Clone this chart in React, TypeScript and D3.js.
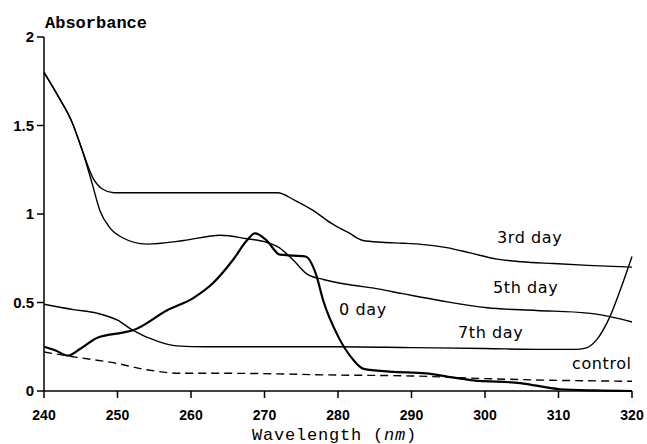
import React from "react";
import * as d3 from "d3";

// absorbance spectra, [wavelength nm, absorbance]
const day3: [number, number][] = [
  [240, 1.8], [242, 1.66], [243.8, 1.52], [245.2, 1.36], [246.7, 1.2], [248, 1.14],
  [249.5, 1.12], [255, 1.12], [262, 1.12], [268, 1.12], [271.8, 1.12], [274, 1.08],
  [276.6, 1.02], [279, 0.95], [281.6, 0.89], [283.4, 0.85], [286, 0.84], [288.8, 0.835],
  [291, 0.83], [294.8, 0.81], [298, 0.78], [301.6, 0.745], [305, 0.73], [309.3, 0.72],
  [314, 0.71], [320, 0.7],
];
const day5: [number, number][] = [
  [240, 1.8], [242, 1.66], [243.8, 1.52], [245.2, 1.36], [246.5, 1.18], [247.6, 1.02],
  [249, 0.92], [250.5, 0.87], [254, 0.83], [259, 0.85], [264, 0.88], [267.6, 0.86],
  [270.3, 0.84], [272, 0.81], [273.9, 0.74], [275.8, 0.66], [278, 0.63], [281.6, 0.6],
  [285, 0.58], [288.8, 0.55], [294, 0.51], [300.3, 0.47], [307, 0.455], [314, 0.44],
  [317, 0.42], [320, 0.39],
];
const day7: [number, number][] = [
  [240, 0.49], [244, 0.46], [247.2, 0.44], [250, 0.4], [252, 0.345], [255.5, 0.28],
  [258, 0.255], [262, 0.25], [270, 0.25], [280, 0.25], [290, 0.245], [300, 0.24],
  [308, 0.235], [312.5, 0.235], [313.9, 0.245], [315.2, 0.29], [317, 0.42],
  [318.4, 0.57], [320, 0.76],
];
const day0: [number, number][] = [
  [240, 0.25], [241.5, 0.23], [243.3, 0.2], [245, 0.24], [247.2, 0.3], [250.7, 0.33],
  [252.2, 0.345], [256.7, 0.455], [260.3, 0.525], [263, 0.61], [265.7, 0.74],
  [267.6, 0.85], [268.7, 0.89], [270.3, 0.85], [272.1, 0.77], [274, 0.765], [275.6, 0.76],
  [277, 0.66], [278, 0.51], [280, 0.31], [282, 0.18], [283.5, 0.125], [287, 0.11],
  [292, 0.1], [295, 0.08], [298.4, 0.06], [304.8, 0.045], [310.2, 0.01], [315, 0.003],
  [320, 0.0],
];
const control: [number, number][] = [
  [240, 0.22], [244.5, 0.19], [249.4, 0.16], [254, 0.12], [258.5, 0.1], [265, 0.1],
  [280, 0.09], [290, 0.085], [300, 0.07], [310, 0.06], [320, 0.055],
];

const xTicks = [240, 250, 260, 270, 280, 290, 300, 310, 320];
const yTicks = [0, 0.5, 1, 1.5, 2];
const yTickLabels = ["0", "0.5", "1", "1.5", "2"];

const curveLabels = [
  { text: "3rd day", x: 497, y: 243 },
  { text: "5th day", x: 493, y: 293 },
  { text: "0 day", x: 339, y: 315 },
  { text: "7th day", x: 458, y: 338 },
  { text: "control", x: 572, y: 369 },
];

const W = 647;
const H = 444;

export default function App() {
  const x = d3.scaleLinear().domain([240, 320]).range([44, 632]);
  const y = d3.scaleLinear().domain([0, 2]).range([391, 37]);

  const line = d3
    .line<[number, number]>()
    .x((d) => x(d[0]))
    .y((d) => y(d[1]))
    .curve(d3.curveMonotoneX);

  const tickFont = "'Liberation Sans', Arial, sans-serif";
  const labelFont = "'DejaVu Sans', sans-serif";

  return (
    <svg
      width={W}
      height={H}
      style={{ position: "absolute", left: 0, top: 0, background: "#fff" }}
    >
      {/* y axis */}
      <line x1={x(240)} x2={x(240)} y1={y(2)} y2={y(0)} stroke="#000" strokeWidth={1.5} />
      {yTicks.map((t, i) => (
        <g key={"y" + t}>
          <line x1={x(240) - 7} x2={x(240)} y1={y(t)} y2={y(t)} stroke="#000" strokeWidth={1.5} />
          <text
            x={34}
            y={y(t) + 5}
            textAnchor="end"
            fontFamily={tickFont}
            fontWeight="bold"
            fontSize={15}
          >
            {yTickLabels[i]}
          </text>
        </g>
      ))}

      {/* x axis */}
      <line x1={x(240)} x2={x(320)} y1={y(0)} y2={y(0)} stroke="#000" strokeWidth={1.5} />
      {xTicks.map((t) => (
        <g key={"x" + t}>
          <line x1={x(t)} x2={x(t)} y1={y(0)} y2={y(0) + 7} stroke="#000" strokeWidth={1.5} />
          <text
            x={x(t)}
            y={420}
            textAnchor="middle"
            fontFamily={tickFont}
            fontWeight="bold"
            fontSize={14}
          >
            {t}
          </text>
        </g>
      ))}

      <text x={45} y={28} fontFamily="'Liberation Mono', monospace" fontWeight="bold" fontSize={17}>
        Absorbance
      </text>
      <text x={252} y={440} fontFamily="'Liberation Mono', monospace" fontSize={17} letterSpacing={0.8}>
        Wavelength (<tspan fontStyle="italic">nm</tspan>)
      </text>

      {/* curves */}
      <path d={line(day3) || ""} fill="none" stroke="#000" strokeWidth={1.4} />
      <path d={line(day5) || ""} fill="none" stroke="#000" strokeWidth={1.4} />
      <path d={line(day7) || ""} fill="none" stroke="#000" strokeWidth={1.4} />
      <path d={line(day0) || ""} fill="none" stroke="#000" strokeWidth={2.2} />
      <path
        d={line(control) || ""}
        fill="none"
        stroke="#000"
        strokeWidth={1.4}
        strokeDasharray="8,5"
      />

      {curveLabels.map((l) => (
        <text
          key={l.text}
          x={l.x}
          y={l.y}
          fontFamily={labelFont}
          fontSize={16}
          letterSpacing={0.6}
        >
          {l.text}
        </text>
      ))}
    </svg>
  );
}
